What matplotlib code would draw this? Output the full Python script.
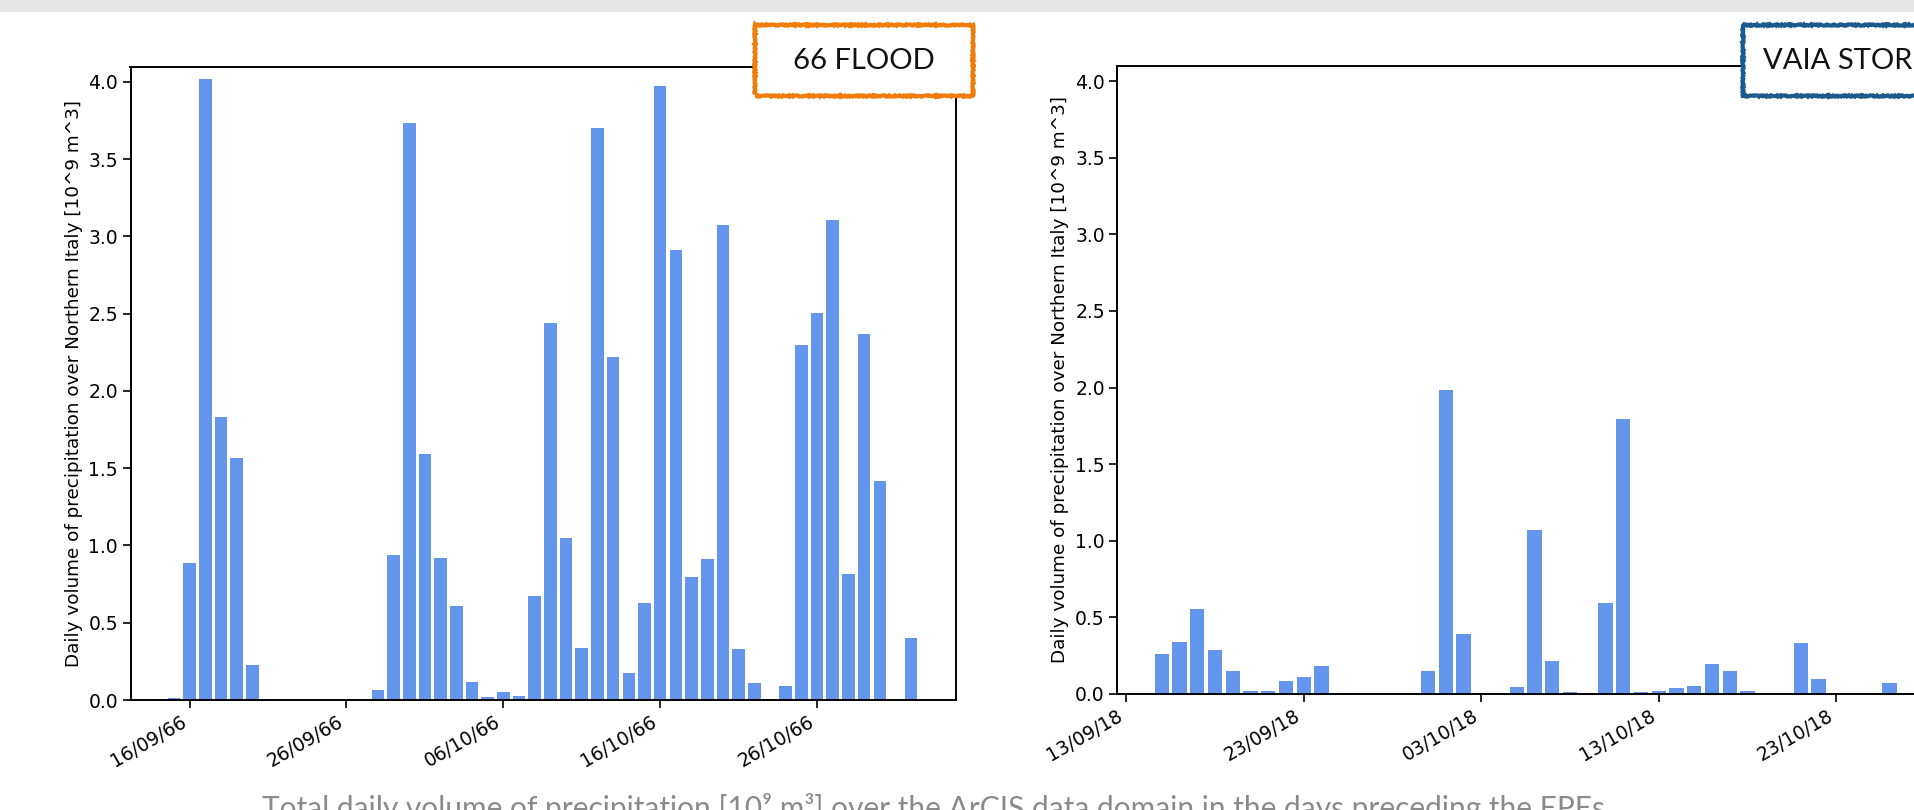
import matplotlib
matplotlib.use("Agg")
import matplotlib.pyplot as plt
import matplotlib.dates as mdates
from matplotlib.patches import Rectangle
import pandas as pd

# ---------------------------------------------------------------
# Data
# ---------------------------------------------------------------
FLOOD_START = "1966-09-15"
flood_values = [
    0.011, 0.886, 4.02, 1.83, 1.565, 0.226, 0, 0, 0, 0, 0, 0,
    0.005, 0.063, 0.937, 3.733, 1.591, 0.918, 0.608, 0.114, 0.019, 0.052,
    0.025, 0.673, 2.439, 1.046, 0.335, 3.700, 2.218, 0.174, 0.627, 3.973,
    2.913, 0.796, 0.910, 3.074, 0.330, 0.109, 0.005, 0.090, 2.297, 2.504,
    3.106, 0.815, 2.368, 1.417, 0, 0.401,
]
flood_ticks = ["1966-09-16", "1966-09-26", "1966-10-06", "1966-10-16", "1966-10-26"]

VAIA_START = "2018-09-13"
vaia_values = [
    0, 0, 0.258, 0.335, 0.553, 0.283, 0.146, 0.016, 0.016, 0.082,
    0.107, 0.179, 0, 0, 0, 0, 0, 0.146, 1.982, 0.388,
    0, 0, 0.041, 1.067, 0.212, 0.011, 0.005, 0.591, 1.792, 0.011,
    0.016, 0.036, 0.049, 0.192, 0.146, 0.016, 0, 0, 0.330, 0.093,
    0, 0, 0, 0.069,
]
vaia_ticks = ["2018-09-13", "2018-09-23", "2018-10-03", "2018-10-13", "2018-10-23"]

yticks = [0.0, 0.5, 1.0, 1.5, 2.0, 2.5, 3.0, 3.5, 4.0]
ylabel = "Daily volume of precipitation over Northern Italy [10^9 m^3]"
caption = "Total daily volume of precipitation [10\u2079 m\u00b3] over the ArCIS data domain in the days preceding the EPEs"

W, H = 1915, 810
BAR_COLOR = "cornflowerblue"


def px(x0, top, x1, bottom):
    """Pixel box (origin top-left) -> figure fraction rect."""
    return [x0 / W, (H - bottom) / H, (x1 - x0) / W, (bottom - top) / H]


def draw_panel(ax, start, values, ticks, xlim):
    dates = pd.date_range(start, periods=len(values), freq="D")
    ax.bar(dates, values, width=0.8, color=BAR_COLOR)
    ax.set_xlim(*xlim)
    ax.set_ylim(0, 4.1)
    ax.set_yticks(yticks)
    ax.set_xticks(pd.to_datetime(ticks))
    ax.xaxis.set_major_formatter(mdates.DateFormatter("%d/%m/%y"))
    ax.tick_params(labelsize=13.5, width=1.2, length=5.5)
    for lab in ax.get_xticklabels():
        lab.set_rotation(30)
        lab.set_ha("right")
    for s in ax.spines.values():
        s.set_linewidth(1.4)
    ax.set_ylabel(ylabel, fontsize=13.2)


fig = plt.figure(figsize=(W / 100, H / 100), dpi=100)

# browser-like grey bar at top
fig.add_artist(Rectangle((0, 1 - 12 / H), 1, 12 / H, transform=fig.transFigure,
                         facecolor="#e6e6e6", edgecolor="none", zorder=0))

ax1 = fig.add_axes(px(130.5, 66.5, 955.7, 700))
d0 = mdates.date2num(pd.Timestamp("1966-09-16"))
d1 = mdates.date2num(pd.Timestamp("1966-11-01"))
draw_panel(ax1, FLOOD_START, flood_values, flood_ticks, (d0 - 3.77, d1 + 2.84))

ax2 = fig.add_axes(px(1117.3, 66, 1941.3, 693.7))
v0 = mdates.date2num(pd.Timestamp("2018-09-13")) - 0.5
draw_panel(ax2, VAIA_START, vaia_values, vaia_ticks, (v0, v0 + 824 / 17.75))

# event labels in rough boxes
for (x0, x1, col) in [(755, 973, "#f07d0a"), (1743, 2150, "#1b5a8c")]:
    r = Rectangle((x0 / W, (H - 96) / H), (x1 - x0) / W, 71 / H,
                  transform=fig.transFigure, facecolor="white",
                  edgecolor=col, linewidth=3.0, zorder=5)
    r.set_sketch_params(scale=0.6, length=1.0, randomness=2)
    fig.add_artist(r)

fig.text(864 / W, (H - 61) / H, "66 FLOOD", ha="center", va="center",
         fontsize=21, family="Lato", color="#111111", zorder=6)
fig.text(1763 / W, (H - 61) / H, "VAIA STORM", ha="left", va="center",
         fontsize=21, family="Lato", color="#111111", zorder=6)

fig.text(262 / W, (H - 818) / H, caption, ha="left", va="baseline",
         fontsize=21.5, family="Lato", color="#8a8a8a")

fig.savefig("out.png", dpi=100)
